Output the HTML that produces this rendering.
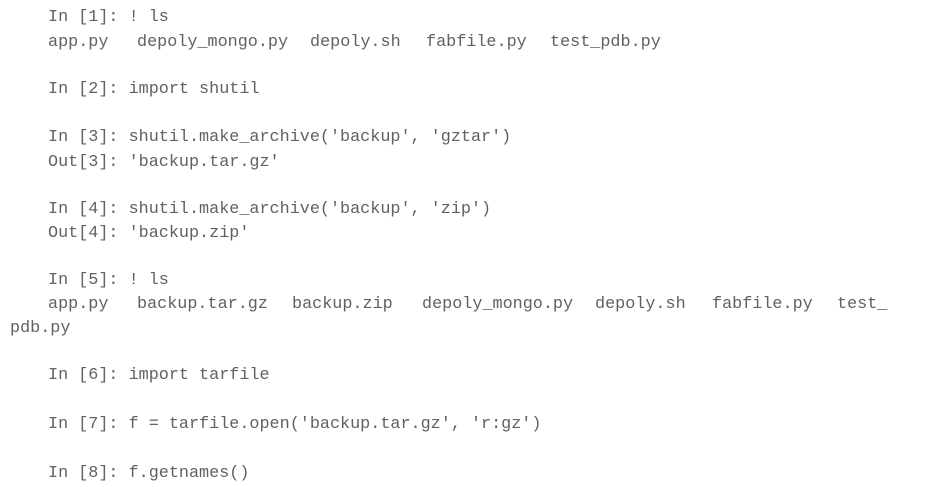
<!DOCTYPE html>
<html><head><meta charset="utf-8"><style>
html,body{margin:0;padding:0;background:#fff;}
body{width:945px;height:487px;position:relative;overflow:hidden;font-family:"Liberation Mono",monospace;font-size:16.8px;color:#616161;}
.l{position:absolute;white-space:pre;line-height:20px;}
</style></head><body>
<div class="l" style="left:48px;top:8px">In [1]: ! ls</div>
<div class="l" style="left:48px;top:33px">app.py</div>
<div class="l" style="left:137px;top:33px">depoly_mongo.py</div>
<div class="l" style="left:310px;top:33px">depoly.sh</div>
<div class="l" style="left:426px;top:33px">fabfile.py</div>
<div class="l" style="left:550px;top:33px">test_pdb.py</div>
<div class="l" style="left:48px;top:80px">In [2]: import shutil</div>
<div class="l" style="left:48px;top:128px">In [3]: shutil.make_archive('backup', 'gztar')</div>
<div class="l" style="left:48px;top:153px">Out[3]: 'backup.tar.gz'</div>
<div class="l" style="left:48px;top:200px">In [4]: shutil.make_archive('backup', 'zip')</div>
<div class="l" style="left:48px;top:224px">Out[4]: 'backup.zip'</div>
<div class="l" style="left:48px;top:271px">In [5]: ! ls</div>
<div class="l" style="left:48px;top:295px">app.py</div>
<div class="l" style="left:137px;top:295px">backup.tar.gz</div>
<div class="l" style="left:292px;top:295px">backup.zip</div>
<div class="l" style="left:422px;top:295px">depoly_mongo.py</div>
<div class="l" style="left:595px;top:295px">depoly.sh</div>
<div class="l" style="left:712px;top:295px">fabfile.py</div>
<div class="l" style="left:837px;top:295px">test_</div>
<div class="l" style="left:10px;top:319px">pdb.py</div>
<div class="l" style="left:48px;top:366px">In [6]: import tarfile</div>
<div class="l" style="left:48px;top:415px">In [7]: f = tarfile.open('backup.tar.gz', 'r:gz')</div>
<div class="l" style="left:48px;top:464px">In [8]: f.getnames()</div>
</body></html>
